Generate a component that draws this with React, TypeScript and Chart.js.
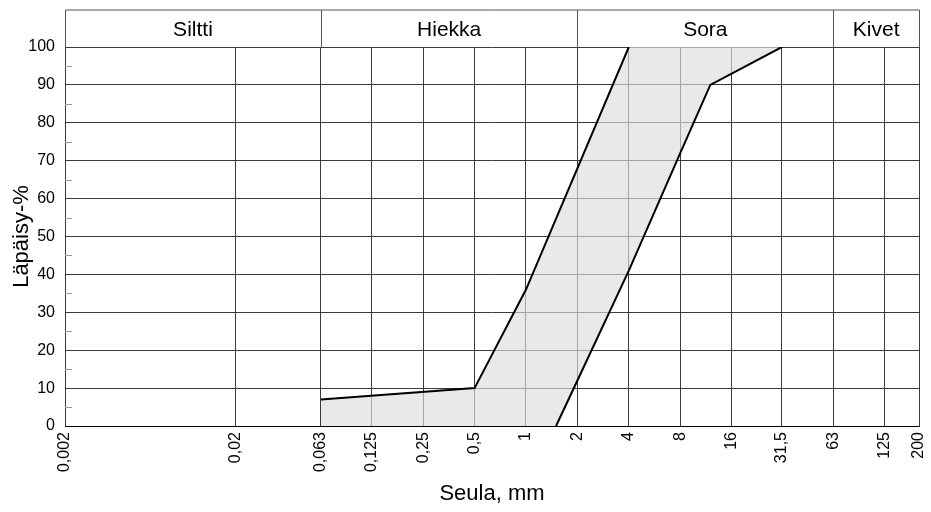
import React, { useEffect, useRef } from 'react';
import { Chart, registerables } from 'chart.js';

Chart.register(...registerables);

// ---- data ----
const xTickValues = [0.002, 0.02, 0.063, 0.125, 0.25, 0.5, 1, 2, 4, 8, 16, 31.5, 63, 125, 200];
const xTickLabels = ['0,002', '0,02', '0,063', '0,125', '0,25', '0,5', '1', '2', '4', '8', '16', '31,5', '63', '125', '200'];
const yMinorTicks = [5, 15, 25, 35, 45, 55, 65, 75, 85, 95];
const fractionNames = ['Siltti', 'Hiekka', 'Sora', 'Kivet'];
const fractionBounds = [0.002, 0.063, 2, 63, 200];

// fine boundary of the grading envelope
const fineSize = [0.063, 0.5, 1, 4];
const finePass = [7, 10, 36, 100];
// coarse boundary of the grading envelope
const coarseSize = [1.5, 2, 4, 8, 12, 31.5];
const coarsePass = [0, 12, 41, 72, 90, 100];

const FONT = "'Liberation Sans', Arial, Helvetica, sans-serif";
const GRID = '#3a3a3a';

const finePts = fineSize.map((x, i) => ({ x, y: finePass[i] }));
const coarsePts = coarseSize.map((x, i) => ({ x, y: coarsePass[i] }));
const envTop = [...finePts, { x: coarseSize[coarseSize.length - 1], y: 100 }];
const envBottom = [{ x: fineSize[0], y: 0 }, ...coarsePts];

const headerPlugin = {
  id: 'fractionHeader',
  beforeDatasetsDraw(chart: any) {
    const { ctx, chartArea, scales } = chart;
    const y = scales.y;
    ctx.save();
    ctx.strokeStyle = '#999999';
    ctx.lineWidth = 1;
    const left = Math.round(chartArea.left);
    yMinorTicks.forEach((v) => {
      const py = Math.round(y.getPixelForValue(v)) + 0.5;
      ctx.beginPath();
      ctx.moveTo(left, py);
      ctx.lineTo(left + 7, py);
      ctx.stroke();
    });
    ctx.restore();
  },
  afterDatasetsDraw(chart: any) {
    const { ctx, chartArea } = chart;
    ctx.save();
    ctx.strokeStyle = '#000000';
    ctx.lineWidth = 1;
    const b = Math.round(chartArea.bottom) + 0.5;
    ctx.beginPath();
    ctx.moveTo(chartArea.left, b);
    ctx.lineTo(chartArea.right, b);
    ctx.stroke();
    ctx.restore();
  },
  afterDraw(chart: any) {
    const { ctx, chartArea, scales } = chart;
    const x = scales.x;
    const top = Math.round(chartArea.top) + 0.5;
    const hTop = top - 37.5;
    ctx.save();
    ctx.strokeStyle = '#555555';
    ctx.lineWidth = 1;
    ctx.beginPath();
    ctx.moveTo(Math.round(chartArea.left) + 0.5, top);
    ctx.lineTo(Math.round(chartArea.left) + 0.5, hTop);
    ctx.lineTo(Math.round(chartArea.right) + 0.5, hTop);
    ctx.lineTo(Math.round(chartArea.right) + 0.5, top);
    ctx.stroke();
    ctx.fillStyle = '#000000';
    ctx.font = `21px ${FONT}`;
    ctx.textAlign = 'center';
    ctx.textBaseline = 'middle';
    for (let i = 0; i < fractionNames.length; i++) {
      const x0 = x.getPixelForValue(fractionBounds[i]);
      const x1 = x.getPixelForValue(fractionBounds[i + 1]);
      if (i > 0) {
        const px = Math.round(x0) + 0.5;
        ctx.beginPath();
        ctx.moveTo(px, hTop);
        ctx.lineTo(px, top);
        ctx.stroke();
      }
      ctx.fillText(fractionNames[i], (x0 + x1) / 2, (hTop + top) / 2 + 1);
    }
    ctx.restore();
  },
};

export default function App() {
  const canvasRef = useRef<HTMLCanvasElement | null>(null);

  useEffect(() => {
    if (!canvasRef.current) return;
    const chart = new Chart(canvasRef.current, {
      type: 'line',
      data: {
        datasets: [
          {
            label: 'envTop',
            data: envTop,
            borderWidth: 0,
            pointRadius: 0,
            backgroundColor: 'rgba(221,221,221,0.66)',
            fill: '+1',
            order: 2,
          },
          {
            label: 'envBottom',
            data: envBottom,
            borderWidth: 0,
            pointRadius: 0,
            fill: false,
            order: 2,
          },
          {
            label: 'fine',
            data: finePts,
            borderColor: '#000000',
            borderWidth: 2,
            pointRadius: 0,
            fill: false,
            order: 1,
          },
          {
            label: 'coarse',
            data: coarsePts,
            borderColor: '#000000',
            borderWidth: 2,
            pointRadius: 0,
            fill: false,
            order: 1,
          },
        ] as any,
      },
      options: {
        animation: false,
        responsive: false,
        events: [],
        layout: { padding: { top: 47, right: 12, left: 0, bottom: 0 } },
        elements: { line: { tension: 0 } },
        plugins: {
          legend: { display: false },
          tooltip: { enabled: false },
        },
        scales: {
          x: {
            type: 'logarithmic',
            min: 0.002,
            max: 200,
            afterBuildTicks: (scale: any) => {
              scale.ticks = xTickValues.map((v) => ({ value: v }));
            },
            afterFit: (scale: any) => {
              scale.height = 86;
              scale.paddingLeft = 0;
              scale.paddingRight = 0;
            },
            grid: { color: GRID, lineWidth: 1, drawTicks: false },
            border: { color: GRID },
            ticks: {
              autoSkip: false,
              minRotation: 90,
              maxRotation: 90,
              padding: 6,
              color: '#000000',
              font: { family: FONT, size: 16 },
              callback: (_v: any, i: number) => xTickLabels[i],
            },
            title: {
              display: true,
              text: 'Seula, mm',
              color: '#000000',
              font: { family: FONT, size: 22 },
              padding: { top: 5, bottom: 5 },
            },
          },
          y: {
            type: 'linear',
            min: 0,
            max: 100,
            afterFit: (scale: any) => {
              scale.width = 65;
              scale.paddingTop = 0;
              scale.paddingBottom = 0;
            },
            grid: { color: GRID, lineWidth: 1, drawTicks: false },
            border: { color: GRID },
            ticks: {
              stepSize: 10,
              padding: 10,
              color: '#000000',
              font: { family: FONT, size: 16 },
            },
            title: {
              display: true,
              text: 'Läpäisy-%',
              color: '#000000',
              font: { family: FONT, size: 22 },
              padding: { top: 9, bottom: 9 },
            },
          },
        },
      } as any,
      plugins: [headerPlugin],
    });
    return () => chart.destroy();
  }, []);

  return (
    <div style={{ position: 'fixed', left: 0, top: 0, width: 931, height: 512, background: '#ffffff' }}>
      <canvas ref={canvasRef} width={931} height={512} style={{ display: 'block' }} />
    </div>
  );
}
